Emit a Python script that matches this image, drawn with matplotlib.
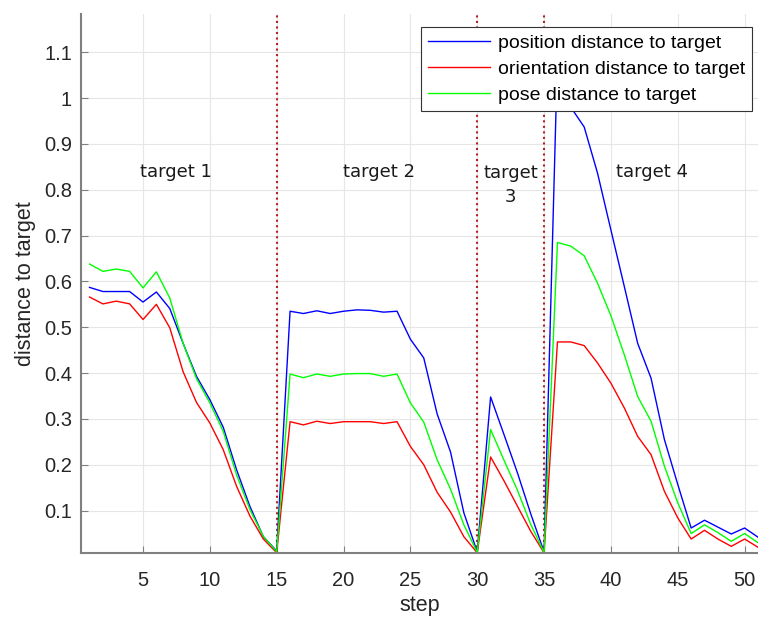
import numpy as np
import matplotlib
matplotlib.use('Agg')
import matplotlib.pyplot as plt

steps = np.arange(1, 52)

position = [0.587, 0.578, 0.578, 0.578, 0.555, 0.577, 0.541, 0.465, 0.393, 0.342,
            0.282, 0.189, 0.109, 0.043, 0.012,
            0.535, 0.530, 0.536, 0.530, 0.535, 0.538, 0.537, 0.533, 0.535,
            0.474, 0.433, 0.311, 0.228, 0.095, 0.010,
            0.348, 0.266, 0.183, 0.093, 0.010,
            1.090, 0.980, 0.937, 0.836, 0.712, 0.589, 0.465, 0.389, 0.255, 0.157,
            0.062, 0.079, 0.064, 0.049, 0.062, 0.042]
orientation = [0.566, 0.551, 0.557, 0.551, 0.517, 0.550, 0.499, 0.403, 0.336, 0.291,
               0.233, 0.153, 0.088, 0.038, 0.008,
               0.294, 0.287, 0.295, 0.290, 0.294, 0.294, 0.294, 0.290, 0.294,
               0.240, 0.200, 0.140, 0.097, 0.043, 0.008,
               0.217, 0.165, 0.110, 0.055, 0.008,
               0.468, 0.468, 0.460, 0.422, 0.378, 0.324, 0.262, 0.222, 0.142, 0.084,
               0.038, 0.057, 0.038, 0.022, 0.038, 0.020]
pose = [0.638, 0.622, 0.627, 0.622, 0.586, 0.621, 0.564, 0.465, 0.388, 0.335,
        0.273, 0.178, 0.102, 0.044, 0.010,
        0.398, 0.390, 0.398, 0.393, 0.398, 0.399, 0.399, 0.393, 0.398,
        0.335, 0.293, 0.211, 0.147, 0.069, 0.009,
        0.277, 0.210, 0.145, 0.070, 0.009,
        0.685, 0.677, 0.656, 0.596, 0.525, 0.440, 0.349, 0.295, 0.197, 0.117,
        0.050, 0.069, 0.052, 0.033, 0.050, 0.030]

target_switch = [15, 30, 35]
target_labels = ['target 1', 'target 2', 'target\n3', 'target 4']
label_x = [7.45, 22.65, 32.5, 43.1]
label_y = [0.839, 0.839, 0.857, 0.839]

plt.rcParams['font.family'] = ['Liberation Sans', 'DejaVu Sans']

fig = plt.figure(figsize=(7.58, 6.19), dpi=100)
ax = fig.add_axes([0.107, 0.107, 0.893, 0.870])

ax.plot(steps, position, color='#0000ff', lw=1.0, label='position distance to target')
ax.plot(steps, orientation, color='#ff0000', lw=1.0, label='orientation distance to target')
ax.plot(steps, pose, color='#00ff00', lw=1.0, label='pose distance to target')

for s in target_switch:
    ax.axvline(s, color='#b52020', ls=':', lw=1.5, zorder=1)

for x, y, t in zip(label_x, label_y, target_labels):
    ax.text(x, y, t, ha='center', va='top' if '\n' in t else 'center',
            fontsize=13, family='DejaVu Sans', color='#1a1a1a', linespacing=1.45)

ax.set_xlim(0.37, 51)
ax.set_ylim(0.008, 1.183)
ax.set_xticks(range(5, 51, 5))
ax.set_yticks(np.round(np.arange(0.1, 1.15, 0.1), 1))
ax.set_yticklabels(['0.1', '0.2', '0.3', '0.4', '0.5', '0.6', '0.7', '0.8', '0.9', '1', '1.1'])
ax.grid(True, color='#e6e6e6', lw=0.8)
ax.set_axisbelow(True)
ax.tick_params(direction='in', labelcolor='#262626', labelsize=14.5, length=5, width=0.8,
               color='#808080')
ax.tick_params(axis='y', pad=6.5)
ax.tick_params(axis='x', pad=13)
for side in ['top', 'right']:
    ax.spines[side].set_visible(False)
for side in ['left', 'bottom']:
    ax.spines[side].set_color('#808080')
    ax.spines[side].set_linewidth(1.5)

ax.set_xlabel('step', fontsize=15.5, color='#262626', labelpad=4)
ax.set_ylabel('distance to target', fontsize=15.5, color='#262626', labelpad=6)

leg = ax.legend(loc='upper right', bbox_to_anchor=(0.991, 0.976), borderaxespad=0,
                fontsize=14, fancybox=False, framealpha=1, edgecolor='#333333',
                handlelength=3.2, borderpad=0.35, labelspacing=0.45, handletextpad=0.4)
leg.get_frame().set_linewidth(0.8)
leg.set_zorder(5)

fig.savefig('out.png', dpi=100)
